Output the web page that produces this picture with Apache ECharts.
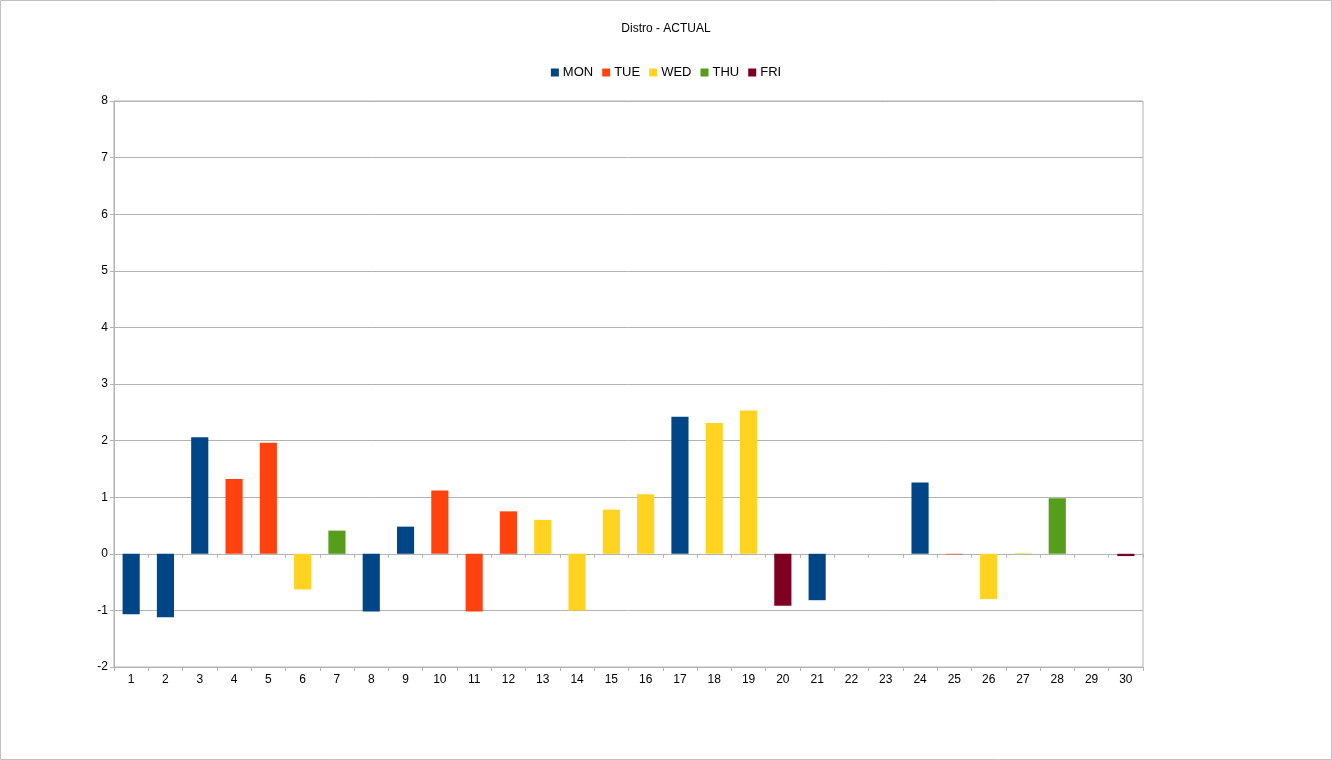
<!DOCTYPE html>
<html>
<head>
<meta charset="utf-8">
<script src="https://cdn.jsdelivr.net/npm/echarts@6/dist/echarts.min.js"></script>
<style>
  html, body { margin: 0; padding: 0; background: #fff; }
  #chart { width: 1332px; height: 760px; }
</style>
</head>
<body>
<div id="chart"></div>
<script>
// 数据
const categories = ['1','2','3','4','5','6','7','8','9','10','11','12','13','14','15',
  '16','17','18','19','20','21','22','23','24','25','26','27','28','29','30'];
const seriesNames = ['MON', 'TUE', 'WED', 'THU', 'FRI'];
const colors = ['#004586', '#ff420e', '#ffd320', '#579d1c', '#7e0021'];
// which day each bar belongs to ('' = no bar)
const dayOf = ['MON','MON','MON','TUE','TUE','WED','THU','MON','MON','TUE',
  'TUE','TUE','WED','WED','WED','WED','MON','WED','WED','FRI',
  'MON','','','MON','TUE','WED','WED','THU','','FRI'];
const values = [-1.07, -1.12, 2.06, 1.32, 1.96, -0.63, 0.41, -1.02, 0.48, 1.12,
  -1.02, 0.75, 0.60, -1.00, 0.78, 1.05, 2.42, 2.31, 2.53, -0.92,
  -0.82, 0, 0, 1.26, -0.01, -0.80, 0.01, 0.98, 0, -0.04];
const yTicks = { min: -2, max: 8, interval: 1 };

const chart = echarts.init(document.getElementById('chart'));

const series = seriesNames.map((name, i) => ({
  name: name,
  type: 'bar',
  stack: 'all',
  barWidth: '50%',
  xAxisIndex: 0,
  itemStyle: { color: colors[i] },
  data: values.map((v, k) => (dayOf[k] === name ? v : null))
}));

const axisGray = '#b3b3b3';

chart.setOption({
  animation: false,
  color: colors,
  title: {
    text: 'Distro - ACTUAL',
    left: 'center',
    top: 18,
    textStyle: { fontFamily: 'Liberation Sans', fontSize: 12, fontWeight: 'normal', color: '#000' }
  },
  legend: {
    data: seriesNames,
    top: 61,
    left: 'center',
    icon: 'rect',
    itemWidth: 8,
    itemHeight: 8,
    itemGap: 9,
    textStyle: { fontFamily: 'Liberation Sans', fontSize: 13, color: '#000', padding: [0, 0, 0, -1] }
  },
  grid: {
    left: 114, right: 189, top: 101, bottom: 93,
    show: true, borderColor: axisGray, borderWidth: 1, backgroundColor: 'transparent'
  },
  xAxis: [
    {
      type: 'category',
      data: categories,
      axisLine: { onZero: true, lineStyle: { color: axisGray } },
      axisTick: { show: true, length: 4, lineStyle: { color: axisGray } },
      axisLabel: { show: false },
      splitLine: { show: false }
    },
    {
      type: 'category',
      data: categories,
      position: 'bottom',
      axisLine: { onZero: false, lineStyle: { color: axisGray } },
      axisTick: { show: true, length: 4, lineStyle: { color: axisGray } },
      axisLabel: { margin: 7, fontFamily: 'Liberation Sans', fontSize: 12, color: '#000' },
      splitLine: { show: false }
    }
  ],
  yAxis: {
    type: 'value',
    min: yTicks.min,
    max: yTicks.max,
    interval: yTicks.interval,
    axisLine: { show: true, lineStyle: { color: axisGray } },
    axisTick: { show: true, length: 4, lineStyle: { color: axisGray } },
    axisLabel: { margin: 6, fontFamily: 'Liberation Sans', fontSize: 12, color: '#000' },
    splitLine: { show: true, lineStyle: { color: axisGray } }
  },
  graphic: [{
    type: 'rect',
    shape: { x: 0.5, y: 0.5, width: 1331, height: 759 },
    style: { fill: 'none', stroke: '#c0c0c0', lineWidth: 1 },
    silent: true
  }],
  series: series
});
</script>
</body>
</html>
